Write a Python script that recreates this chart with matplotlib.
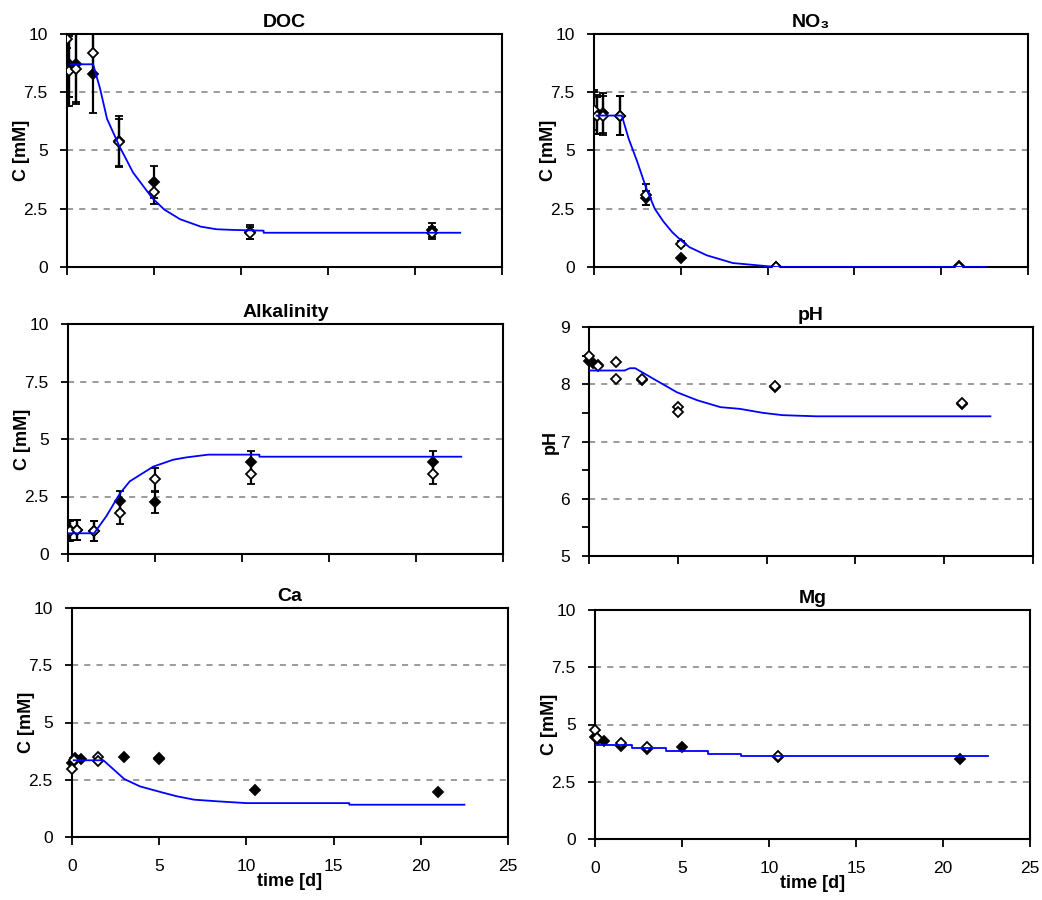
import matplotlib
matplotlib.use("Agg")
import matplotlib.pyplot as plt

plt.rcParams["font.family"] = ["Liberation Sans", "DejaVu Sans"]

W, H = 1042, 900

# --- measured data (two replicates: filled / open diamonds) ---
doc_t = [0.0, 0.1, 0.5, 1.5, 3.0, 5.0, 10.5, 21.0]
doc_a = [8.5, 8.7, 8.7, 8.3, 5.4, 3.65, 1.5, 1.6]
doc_a_err = [1.6, 1.4, 1.6, 1.7, 1.1, 0.7, 0.3, 0.3]
doc_b = [9.8, 8.4, 8.5, 9.2, 5.35, 3.2, 1.45, 1.45]
doc_b_err = [0.4, 1.5, 1.5, 0.9, 1.0, 0.5, 0.25, 0.25]

no3_t = [0.0, 0.2, 0.5, 1.5, 3.0, 5.0, 10.5, 21.0]
no3_a = [6.6, 6.55, 6.6, 6.5, 2.95, 0.4, 0.0, 0.05]
no3_a_err = [0.9, 0.85, 0.85, 0.85, 0.3, 0.0, 0.0, 0.0]
no3_b = [6.75, 6.5, 6.5, 6.5, 3.1, 1.0, 0.02, 0.02]
no3_b_err = [0.85, 0.8, 0.85, 0.85, 0.45, 0.1, 0.0, 0.0]

alk_t = [0.0, 0.1, 0.5, 1.5, 3.0, 5.0, 10.5, 21.0]
alk_a = [1.05, 1.05, 1.05, 1.0, 2.3, 2.25, 4.0, 4.0]
alk_a_err = [0.45, 0.45, 0.45, 0.45, 0.45, 0.45, 0.5, 0.5]
alk_b = [1.0, 1.0, 1.05, 1.0, 1.8, 3.25, 3.5, 3.5]
alk_b_err = [0.45, 0.45, 0.45, 0.45, 0.5, 0.5, 0.45, 0.45]

ph_t_a = [0.0, 0.2, 0.5, 3.0, 10.5, 21.0]
ph_a = [8.4, 8.37, 8.33, 8.08, 7.95, 7.66]
ph_t_b = [0.0, 0.5, 1.5, 1.5, 3.0, 5.0, 5.0, 10.5, 21.0]
ph_b = [8.5, 8.32, 8.38, 8.1, 8.1, 7.6, 7.52, 7.97, 7.68]

ca_t_a = [0.0, 0.2, 0.5, 3.0, 5.0, 5.0, 10.5, 21.0]
ca_a = [3.25, 3.45, 3.4, 3.5, 3.45, 3.4, 2.05, 1.97]
ca_t_b = [0.0, 0.1, 1.5, 1.5]
ca_b = [2.95, 3.35, 3.5, 3.3]

mg_t_a = [0.0, 0.2, 0.5, 1.5, 3.0, 5.0, 10.5, 21.0]
mg_a = [4.45, 4.35, 4.3, 4.05, 3.95, 4.0, 3.6, 3.5]
mg_t_b = [0.0, 0.1, 1.5, 3.0, 10.5]
mg_b = [4.75, 4.4, 4.2, 4.0, 3.62]

# --- model curves ---
doc_mt = [0.2, 1.5, 1.9, 2.3, 3.0, 3.8, 4.9, 5.6, 6.5, 7.7, 8.6, 9.6, 11.3, 11.3, 22.6]
doc_m = [8.7, 8.7, 7.66, 6.36, 5.2, 4.05, 2.96, 2.46, 2.05, 1.73, 1.62, 1.59, 1.56, 1.47, 1.47]
no3_mt = [0.15, 1.6, 2.0, 2.5, 3.0, 3.5, 4.0, 4.5, 5.0, 5.5, 6.5, 8.0, 9.9, 10.5, 22.6]
no3_m = [6.5, 6.5, 5.5, 4.5, 3.4, 2.5, 1.95, 1.5, 1.15, 0.85, 0.5, 0.17, 0.04, 0.0, 0.0]
alk_mt = [0.0, 1.5, 2.2, 3.0, 3.55, 4.9, 6.05, 6.8, 8.06, 11.0, 11.0, 22.6]
alk_m = [0.9, 0.9, 1.64, 2.65, 3.16, 3.8, 4.1, 4.2, 4.32, 4.32, 4.23, 4.23]
ph_mt = [0.0, 2.0, 2.3, 2.6, 3.6, 4.95, 6.1, 7.4, 8.5, 9.8, 10.9, 12.8, 22.6]
ph_m = [8.24, 8.24, 8.28, 8.28, 8.1, 7.86, 7.72, 7.60, 7.57, 7.5, 7.46, 7.44, 7.44]
ca_mt = [0.1, 1.8, 2.4, 3.0, 3.9, 5.0, 6.0, 7.0, 8.3, 10.0, 15.9, 15.9, 22.5]
ca_m = [3.35, 3.35, 2.94, 2.53, 2.21, 1.98, 1.78, 1.63, 1.56, 1.48, 1.48, 1.41, 1.41]
mg_mt = [0.0, 2.1, 2.1, 4.1, 4.1, 6.5, 6.5, 8.4, 8.4, 22.6]
mg_m = [4.1, 4.1, 3.96, 3.96, 3.83, 3.83, 3.72, 3.72, 3.64, 3.64]

x_ticks = [0, 5, 10, 15, 20, 25]
c_ticks = [0, 2.5, 5, 7.5, 10]
c_labels = ["0", "2.5", "5", "7.5", "10"]
ph_ticks = [5, 5.5, 6, 6.5, 7, 7.5, 8, 8.5, 9]
ph_labels = ["5", "", "6", "", "7", "", "8", "", "9"]


def make_ax(fig, left, top, right, bottom):
    return fig.add_axes([left / W, 1 - bottom / H, (right - left) / W, (bottom - top) / H])


def style(ax, title, ylabel, yticks, ylabels, grid, ylim, xlabels, ypad=-5):
    ax.set_xlim(0, 25)
    ax.set_ylim(*ylim)
    for g in grid:
        ax.axhline(g, color="#808080", lw=1.1, ls=(0, (4, 4)), zorder=0)
    ax.set_xticks(x_ticks)
    ax.set_yticks(yticks)
    ax.set_yticklabels(ylabels)
    ax.tick_params(direction="out", width=1.3, labelsize=12.5)
    ax.tick_params(axis="x", length=6, pad=10)
    ax.tick_params(axis="y", length=5, pad=9)
    if xlabels:
        ax.set_xticklabels([str(v) for v in x_ticks])
        ax.set_xlabel("time [d]", fontsize=13, fontweight="bold", labelpad=-1)
    else:
        ax.set_xticklabels([])
    for s in ax.spines.values():
        s.set_linewidth(1.5)
    ax.set_title(title, fontsize=14, fontweight="bold", pad=5)
    ax.set_ylabel(ylabel, fontsize=13, fontweight="bold", labelpad=ypad)


def points(ax, t, y, err, filled):
    fc = "black" if filled else "white"
    if err is None:
        ax.plot(t, y, "D", ms=5.5, mfc=fc, mec="black", mew=1.3, zorder=3, clip_on=False)
    else:
        ax.errorbar(t, y, yerr=err, fmt="D", ms=5.5, mfc=fc, mec="black", mew=1.3,
                    ecolor="black", elinewidth=1.6, capsize=3, capthick=1.4, zorder=3)


def model(ax, t, y):
    ax.plot(t, y, color="#0000ff", lw=1.3, zorder=4)


fig = plt.figure(figsize=(W / 100, H / 100), dpi=100)

ax = make_ax(fig, 67, 34, 502, 267)
style(ax, "DOC", "C [mM]", c_ticks, c_labels, [2.5, 5, 7.5], (0, 10), False)
points(ax, doc_t, doc_a, doc_a_err, True)
points(ax, doc_t, doc_b, doc_b_err, False)
model(ax, doc_mt, doc_m)

ax = make_ax(fig, 594, 34, 1028, 267)
style(ax, "NO₃", "C [mM]", c_ticks, c_labels, [2.5, 5, 7.5], (0, 10), False)
points(ax, no3_t, no3_a, no3_a_err, True)
points(ax, no3_t, no3_b, no3_b_err, False)
model(ax, no3_mt, no3_m)

ax = make_ax(fig, 68, 324, 503, 554)
style(ax, "Alkalinity", "C [mM]", c_ticks, c_labels, [2.5, 5, 7.5], (0, 10), False)
points(ax, alk_t, alk_a, alk_a_err, True)
points(ax, alk_t, alk_b, alk_b_err, False)
model(ax, alk_mt, alk_m)

ax = make_ax(fig, 589, 327, 1033, 556)
style(ax, "pH", "pH", ph_ticks, ph_labels, [6, 7, 8], (5, 9), False, ypad=1)
points(ax, ph_t_a, ph_a, None, True)
points(ax, ph_t_b, ph_b, None, False)
model(ax, ph_mt, ph_m)

ax = make_ax(fig, 72, 608, 508, 837)
style(ax, "Ca", "C [mM]", c_ticks, c_labels, [2.5, 5, 7.5], (0, 10), True)
points(ax, ca_t_a, ca_a, None, True)
points(ax, ca_t_b, ca_b, None, False)
model(ax, ca_mt, ca_m)

ax = make_ax(fig, 595, 610, 1030, 839)
style(ax, "Mg", "C [mM]", c_ticks, c_labels, [2.5, 5, 7.5], (0, 10), True)
points(ax, mg_t_a, mg_a, None, True)
points(ax, mg_t_b, mg_b, None, False)
model(ax, mg_mt, mg_m)

fig.savefig("out.png", dpi=100)
